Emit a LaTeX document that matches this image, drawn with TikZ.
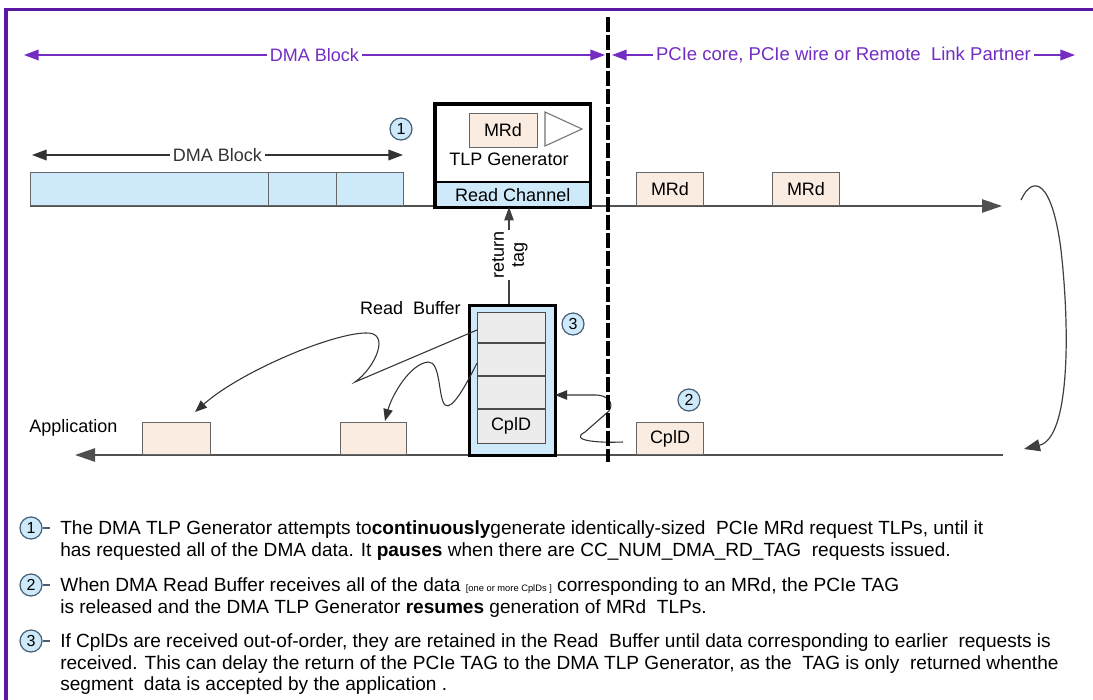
\documentclass[tikz,border=0pt]{standalone}
\usepackage{fontspec}
\setmainfont{Liberation Sans}
\usetikzlibrary{arrows.meta,calc}
\definecolor{bpurple}{RGB}{90,24,165}
\definecolor{lpurple}{RGB}{115,45,195}
\definecolor{lblue}{RGB}{206,234,250}
\definecolor{peach}{RGB}{251,236,225}
\definecolor{cellgray}{RGB}{236,236,236}
\definecolor{wire}{RGB}{80,80,80}
\definecolor{circedge}{RGB}{70,95,120}
\begin{document}
\begin{tikzpicture}[x=0.75pt,y=-0.75pt,
  every node/.style={inner sep=0pt, font=\fontsize{13.5}{16}\selectfont},
  pkt/.style={draw=black!60, fill=peach, line width=0.75pt},
  seg/.style={draw=black!60, fill=lblue, line width=0.75pt, minimum height=24.75pt, anchor=south west},
  numc/.style={circle, draw=circedge, line width=0.9pt, fill=lblue, minimum size=16.5pt, font=\fontsize{12}{12}\selectfont},
  wireln/.style={draw=wire, line width=1.1pt},
  bigtip/.style={-{Triangle[length=15pt,width=10pt]}},
  dbltip/.style={{Triangle[length=11pt,width=8pt]}-{Triangle[length=11pt,width=8pt]}},
  squig/.style={draw=black!80, line width=0.8pt, -{Triangle[length=9pt,width=7pt]}},
  plabel/.style={fill=white, text=lpurple, inner xsep=2pt, inner ysep=1pt},
  parline/.style={anchor=base west, font=\fontsize{14.3}{16}\selectfont},
]
\useasboundingbox (0,0) rectangle (1093,700);
\fill[white] (0,0) rectangle (1093,700);

% frame
\draw[bpurple, line width=2.6pt] (6,700) -- (6,9.5) -- (1093,9.5);

% range arrows on top
\coordinate (dmaL) at (24,55); \coordinate (dmaR) at (605,55);
\coordinate (pcieL) at (612,55); \coordinate (pcieR) at (1075,55);
\draw[lpurple, line width=1.1pt, dbltip] (dmaL) -- node[plabel] (dmalbl) {DMA Block} (dmaR);
\draw[lpurple, line width=1.1pt, dbltip] (pcieL) -- node[plabel, font=\fontsize{13.9}{16}\selectfont] (pcielbl) {PCIe core, PCIe wire or Remote\ \ Link Partner} (pcieR);

% DMA block arrow
\coordinate (dbL) at (32,155); \coordinate (dbR) at (403,155);
\draw[black!80, line width=1pt, dbltip] (dbL) -- node[fill=white, inner xsep=2pt] (dblbl) {DMA Block} (dbR);
\node[numc] (c1) at (401,129) {1};

% upper wire
\coordinate (w1s) at (30,206); \coordinate (w1e) at (1002,206);
\draw[wireln, bigtip] (w1s) -- (w1e);

% DMA data segments
\node[seg, minimum width=178.5pt] (seg1) at (30,206) {};
\node[seg, minimum width=51pt] (seg2) at (268,206) {};
\node[seg, minimum width=50.25pt] (seg3) at (336,206) {};

% TLP generator
\node[fill=white, minimum width=116.25pt, minimum height=77.25pt, anchor=north west] (tlp) at (435,104) {};
\node[fill=lblue, minimum width=116.25pt, minimum height=18.75pt, anchor=south] (rch) at (tlp.south) {Read Channel};
\draw[black, line width=1.5pt] (rch.north west) -- (rch.north east);
\draw[black, line width=2.4pt] (tlp.north west) rectangle (tlp.south east);
\node[pkt, minimum width=51pt, minimum height=25.5pt] (mrdg) at (503,130) {MRd};
\draw[black!55, line width=0.8pt, fill=white] (545,112) -- (545,146) -- (582,129) -- cycle;
\node (tlpgen) at (509,159) {TLP Generator};

% MRd packets on wire
\node[pkt, minimum width=50.25pt, minimum height=24.75pt, anchor=south west] (mrd1) at (636,206) {MRd};
\node[pkt, minimum width=50.25pt, minimum height=24.75pt, anchor=south west] (mrd2) at (772,206) {MRd};

% lower wire
\coordinate (w2s) at (1003,455); \coordinate (w2e) at (75,455);
\draw[wireln, bigtip] (w2s) -- (w2e);
\node[anchor=west] (app) at (29,428) {Application};
\node[pkt, minimum width=51pt, minimum height=24pt, anchor=south west] (ap1) at (142,455) {};
\node[pkt, minimum width=49.5pt, minimum height=24pt, anchor=south west] (ap2) at (340,455) {};
\node[pkt, minimum width=50.25pt, minimum height=24pt, anchor=south west] (cpl2) at (636,455) {CplD};
\node[numc] (c2) at (689,400) {2};

% wrap-around arrow
\coordinate (rcs) at (1021,200); \coordinate (rce) at (1024,449);
\draw[draw=black!75, line width=0.9pt, -{Triangle[length=12pt,width=9pt]}] (rcs) .. controls (1033,174) and (1052,180) .. (1061,250) .. controls (1070,330) and (1070,438) .. (rce);

% return tag
\coordinate (rtb) at (509,304); \coordinate (rtt) at (509,207);
\draw[black!75, line width=0.9pt, -{Triangle[length=10pt,width=7pt]}] (rtb) -- (rtt);
\node[rotate=90, fill=white, align=center, inner xsep=1pt, inner ysep=1pt, font=\fontsize{13.5}{15}\selectfont] (rtag) at (510,255) {return\\tag};

% read buffer
\node[draw=black, line width=2.4pt, fill=lblue, minimum width=64.5pt, minimum height=112.5pt, anchor=north west] (rb) at (468,304) {};
\node[draw=black!70, line width=0.9pt, fill=cellgray, minimum width=51pt, minimum height=98.25pt, anchor=north west] (rbin) at (477,312) {};
\draw[black!70, line width=1pt] (477,343) -- (545,343) (477,376) -- (545,376) (477,409) -- (545,409);
\node (cpl1) at (511,426) {CplD};
\node[anchor=east] (rblbl) at (461,308) {Read\ \ Buffer};
\node[numc] (c3) at (573,324) {3};

% squiggly connectors
\coordinate (q1s) at (477,330); \coordinate (q1e) at (195,412);
\draw[squig] (q1s) -- (355,382) .. controls (375,368) and (392,331) .. (365,333) .. controls (330,334) and (240,372) .. (q1e);
\coordinate (q2s) at (477,363); \coordinate (q2e) at (385,421);
\draw[squig] (q2s) .. controls (466,385) and (452,411) .. (445,405) .. controls (438,398) and (441,361) .. (428,362) .. controls (410,364) and (392,395) .. (q2e);
\coordinate (q3s) at (623,442); \coordinate (q3e) at (555,395);
\draw[squig] (q3s) .. controls (600,443) and (568,441) .. (585,432) -- (609,411) .. controls (615,402) and (606,395) .. (596,395) -- (q3e);

% separator
\coordinate (sepT) at (608,17); \coordinate (sepB) at (608,462);
\draw[black, line width=2.6pt, dash pattern=on 11pt off 2.5pt] (sepT) -- (sepB);

% notes
\node[numc] (n1) at (31,528) {1};
\draw[circedge, line width=0.8pt] (n1.east) -- ++(7,0);
\node[parline] (t1) at (60,534) {The DMA TLP Generator attempts to\textbf{continuously}generate identically-sized\ \ PCIe MRd request TLPs, until it};
\node[parline] (t2) at (60,556) {has requested all of the DMA data. It \textbf{pauses} when there are CC\_NUM\_DMA\_RD\_TAG\ \ requests issued.};
\node[numc] (n2) at (31,585) {2};
\draw[circedge, line width=0.8pt] (n2.east) -- ++(7,0);
\node[parline] (t3) at (60,591) {When DMA Read Buffer receives all of the data {\fontsize{7}{8}\selectfont[one or more CplDs ]} corresponding to an MRd,\ the PCIe TAG};
\node[parline] (t4) at (60,613) {is released and the DMA TLP Generator \textbf{resumes} generation of MRd\ \ TLPs.};
\node[numc] (n3) at (31,641) {3};
\draw[circedge, line width=0.8pt] (n3.east) -- ++(7,0);
\node[parline] (t5) at (60,647) {If CplDs are received out-of-order, they are retained in the Read\ \ Buffer until data corresponding to earlier\ \ requests is};
\node[parline] (t6) at (60,669) {received. This can delay the return of the PCIe TAG to the DMA TLP Generator, as the\ \ TAG is only\ \ returned whenthe};
\node[parline] (t7) at (60,690) {segment\ \ data is accepted by the application .};
\end{tikzpicture}
\end{document}
